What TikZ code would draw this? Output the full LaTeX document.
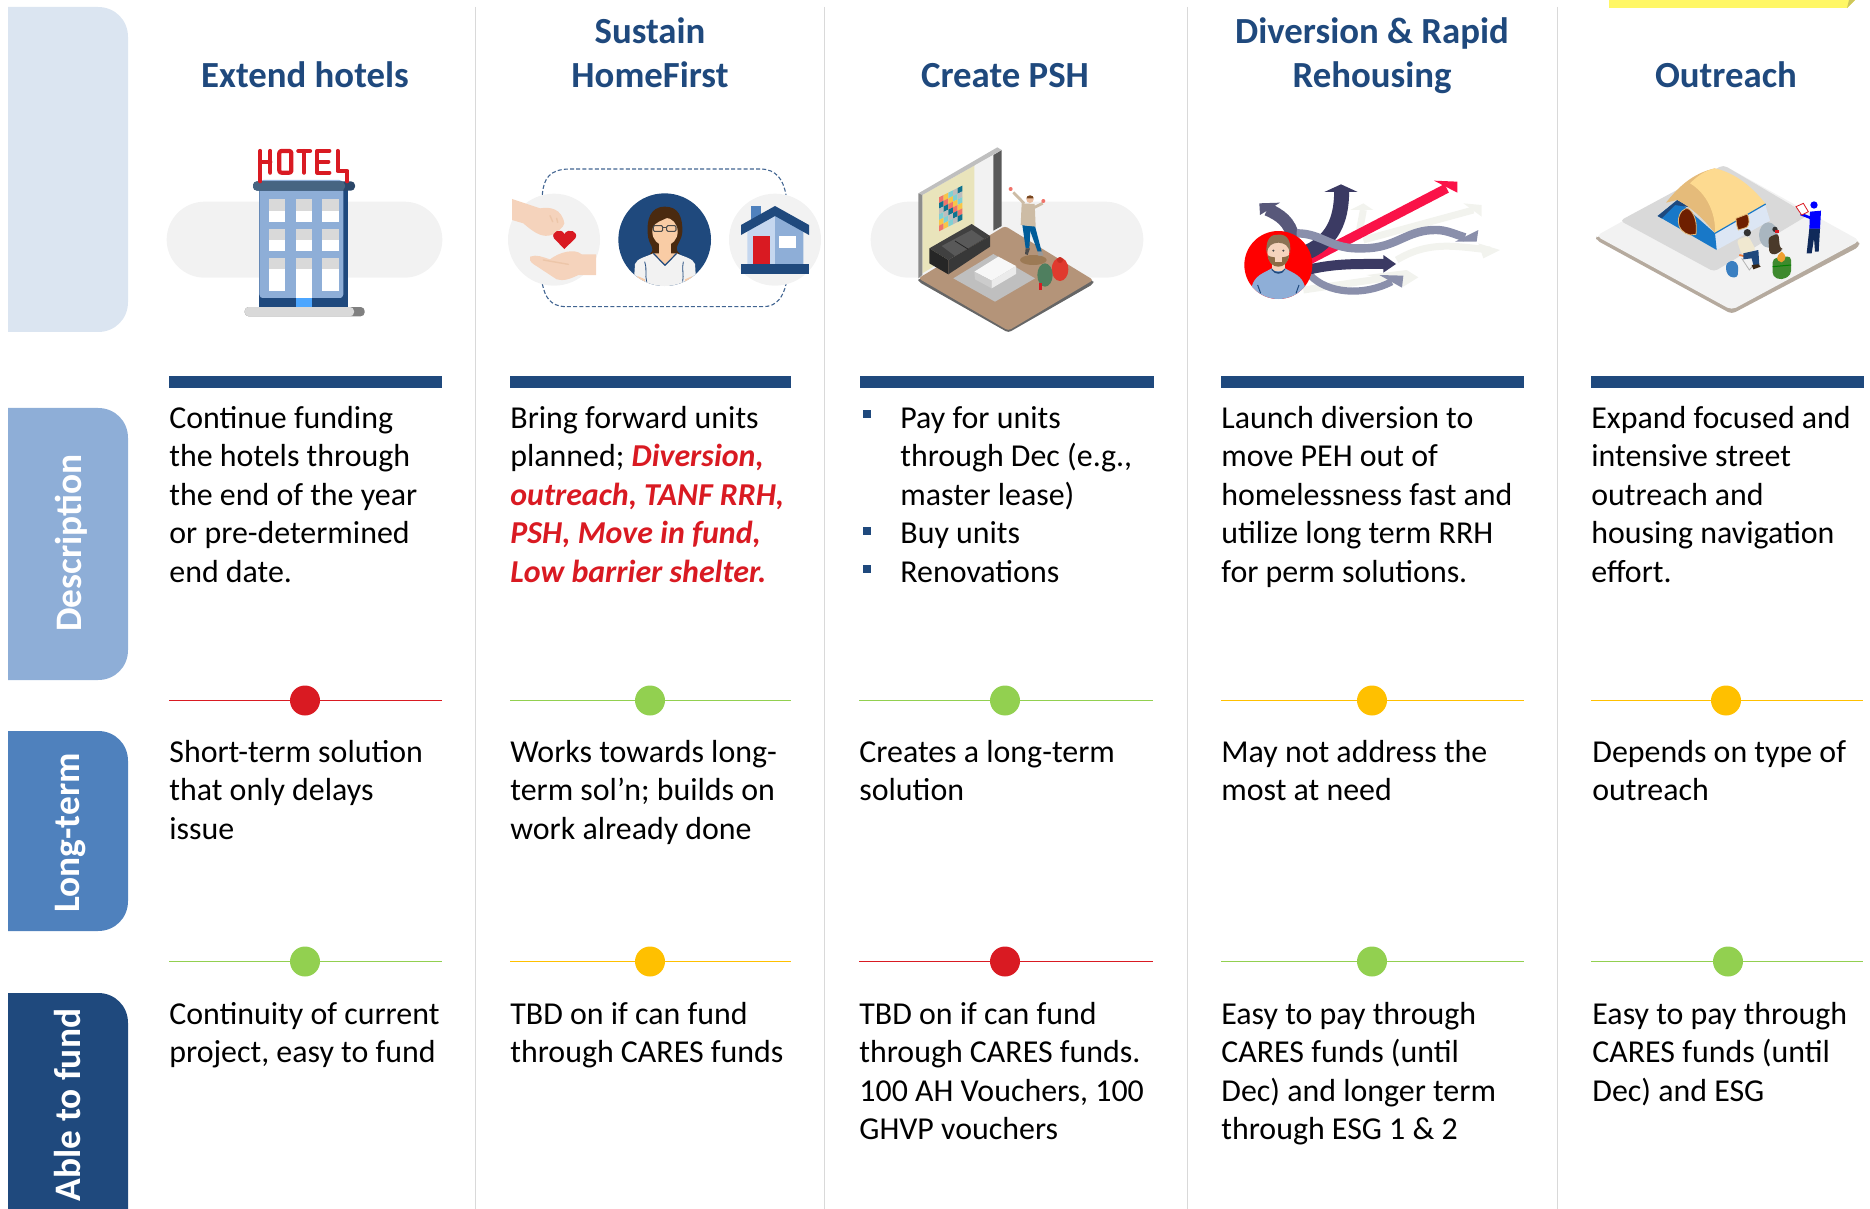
\documentclass[tikz,border=0pt]{standalone}
\usepackage{fontspec}
\setmainfont{Carlito}
\definecolor{navy}{HTML}{1F497D}
\definecolor{pillA}{HTML}{DBE5F1}
\definecolor{pillB}{HTML}{8EAED7}
\definecolor{pillC}{HTML}{4F81BD}
\definecolor{redL}{HTML}{D91A22}
\definecolor{greenL}{HTML}{92D050}
\definecolor{ambL}{HTML}{FFC000}
\definecolor{softG}{HTML}{F2F2F2}
\definecolor{divL}{HTML}{D9D9D9}
\definecolor{skin}{HTML}{F5D3BC}
\definecolor{art0}{HTML}{F0736A}
\definecolor{art1}{HTML}{7FD0D4}
\definecolor{art2}{HTML}{0F7390}
\definecolor{art3}{HTML}{F7C548}
\definecolor{art4}{HTML}{BDBDBD}
\definecolor{arrD}{HTML}{3B3A63}
\definecolor{arrM}{HTML}{8A8FAB}
\definecolor{arrF}{HTML}{F2F3EE}
\tikzset{
  pxgrid/.style={x=0.5pt,y=-0.5pt},
  zoomgrid/.style={x=0.166667pt,y=-0.166667pt},
  divider/.style={divL,line width=0.45pt},
  headtext/.style={font=\fontsize{18.4}{22}\selectfont\bfseries,text=navy,align=center,anchor=south,inner sep=0pt},
  bodytext/.style={font=\fontsize{15.95}{19.25}\selectfont,text=black,align=left,anchor=north west,inner sep=0pt},
  sidetext/.style={font=\fontsize{18.7}{22}\selectfont\bfseries,text=white,rotate=90,inner sep=0pt},
  tlline/.style={line width=0.62pt},
  tldot/.style={circle,minimum size=15pt,inner sep=0pt,draw=none},
  bulletmark/.style={rectangle,fill=navy,minimum size=4pt,inner sep=0pt,draw=none},
}
\newcommand{\pillshape}[3]{\fill[#1] (8,#2) -- (98,#2) .. controls (115,#2) and (128,#2+13) .. (128,#2+30) -- (128,#3-30) .. controls (128,#3-13) and (115,#3) .. (98,#3) -- (8,#3) -- cycle;}
\newcommand{\tlrow}[6]{%
  \coordinate (#1a) at (#2,#5);\coordinate (#1b) at (#3,#5);
  \draw[tlline,#6] (#1a) -- (#1b);
  \node[tldot,fill=#6] (#1) at (#4,#5) {};}
\begin{document}
\begin{tikzpicture}[pxgrid]
\useasboundingbox (0,0) rectangle (1870,1209);
\begin{scope}
\clip (0,0) rectangle (1870,1209);
% side pills
\pillshape{pillA}{7}{332}
\pillshape{pillB}{408}{680}
\pillshape{pillC}{731}{931}
\pillshape{navy}{993}{1240}
\end{scope}
\node[sidetext] (lblD) at (71,543) {Description};
\node[sidetext] (lblL) at (71,833) {Long-term};
\node[sidetext] (lblF) at (68,1105) {Able to fund};
% dividers
\foreach \n/\x in {a/475,b/824,c/1187,d/1557}{
  \coordinate (top\n) at (\x,7);\coordinate (bot\n) at (\x,1209);
  \draw[divider] (top\n) -- (bot\n);
}
% yellow note
\fill[yellow!60!white] (1609,0) -- (1855,0) -- (1847,8) -- (1609,8) -- cycle;
\fill[yellow!55!gray] (1855,0) -- (1847,8) -- (1849,0) -- cycle;
% headings
\node[headtext] (h1) at (305,101) {\strut Extend hotels};
\node[headtext] (h2) at (650,101) {\strut Sustain\\\strut HomeFirst};
\node[headtext] (h3) at (1005,101) {\strut Create PSH};
\node[headtext] (h4) at (1372,101) {\strut Diversion \& Rapid\\\strut Rehousing};
\node[headtext] (h5) at (1726,101) {\strut Outreach};
% bars
\fill[navy] (169,376) rectangle (442,388);
\fill[navy] (510,376) rectangle (791,388);
\fill[navy] (860,376) rectangle (1154,388);
\fill[navy] (1221,376) rectangle (1524,388);
\fill[navy] (1591,376) rectangle (1864,388);
% description
\node[bodytext] (d1) at (169,401) {\strut Continue funding\\the hotels through\\the end of the year\\or pre-determined\\end date.};
\node[bodytext] (d2) at (510,401) {\strut Bring forward units\\planned; \textcolor{redL}{\textbf{\textit{Diversion,}}}\\\textcolor{redL}{\textbf{\textit{outreach, TANF RRH,}}}\\\textcolor{redL}{\textbf{\textit{PSH, Move in fund,}}}\\\textcolor{redL}{\textbf{\textit{Low barrier shelter.}}}};
\node[bodytext] (d3) at (900,401) {\strut Pay for units\\through Dec (e.g.,\\master lease)\\Buy units\\Renovations};
\node[bulletmark] (b1) at (867,414) {};
\node[bulletmark] (b2) at (867,531) {};
\node[bulletmark] (b3) at (867,569) {};
\node[bodytext] (d4) at (1221,401) {\strut Launch diversion to\\move PEH out of\\homelessness fast and\\utilize long term RRH\\for perm solutions.};
\node[bodytext] (d5) at (1591,401) {\strut Expand focused and\\intensive street\\outreach and\\housing navigation\\effort.};
% long-term
\tlrow{ta}{169}{442}{305}{700.5}{redL}
\tlrow{tb}{510}{791}{650}{700.5}{greenL}
\tlrow{tc}{859}{1153}{1005}{700.5}{greenL}
\tlrow{td}{1221}{1524}{1372}{700.5}{ambL}
\tlrow{te}{1591}{1863}{1726}{700.5}{ambL}
\node[bodytext] (l1) at (169,735) {\strut Short-term solution\\that only delays\\issue};
\node[bodytext] (l2) at (510,735) {\strut Works towards long-\\term sol’n; builds on\\work already done};
\node[bodytext] (l3) at (859,735) {\strut Creates a long-term\\solution};
\node[bodytext] (l4) at (1221,735) {\strut May not address the\\most at need};
\node[bodytext] (l5) at (1592,735) {\strut Depends on type of\\outreach};
% funding
\tlrow{ua}{169}{442}{305}{961.5}{greenL}
\tlrow{ub}{510}{791}{650}{961.5}{ambL}
\tlrow{uc}{859}{1153}{1005}{961.5}{redL}
\tlrow{ud}{1221}{1524}{1372}{961.5}{greenL}
\tlrow{ue}{1591}{1863}{1728}{961.5}{greenL}
\node[bodytext] (f1) at (169,997) {\strut Continuity of current\\project, easy to fund};
\node[bodytext] (f2) at (510,997) {\strut TBD on if can fund\\through CARES funds};
\node[bodytext] (f3) at (859,997) {\strut TBD on if can fund\\through CARES funds.\\100 AH Vouchers, 100\\GHVP vouchers};
\node[bodytext] (f4) at (1221,997) {\strut Easy to pay through\\CARES funds (until\\Dec) and longer term\\through ESG 1 \& 2};
\node[bodytext] (f5) at (1592,997) {\strut Easy to pay through\\CARES funds (until\\Dec) and ESG};
% ---------- hotel icon
\begin{scope}[shift={(160,140)},zoomgrid]
\fill[softG,rounded corners=19pt] (20,185) rectangle (847,413);
\fill[navy] (298,150) rectangle (565,500);
\fill[pillB,rounded corners=2pt] (298,120) -- (550,120) -- (550,475) -- (298,475) -- cycle;
\fill[navy] (298,475) rectangle (407,500);
\fill[navy] (456,475) rectangle (565,500);
\fill[white] (407,388) rectangle (456,475);
\fill[blue!50!cyan!70!white] (407,475) rectangle (456,500);
\fill[color=black!45!pillC,rounded corners=2pt] (279,124) rectangle (585,152);
\fill[color={rgb,255:red,70;green,101;blue,130},rounded corners=2pt] (279,124) rectangle (555,152);
\fill[color=black!50,rounded corners=2pt] (254,501) rectangle (614,529);
\fill[divL,rounded corners=2pt] (254,501) rectangle (582,529);
\foreach \xa/\xb in {328/376,407/456,487/536}{
  \foreach \ya/\yb/\yc in {178/212/246,266/300/334,354/388/453}{
    \fill[white] (\xa,\yb) rectangle (\xb,\yc);
    \fill[divL] (\xa,\ya) rectangle (\xb,\yb);
  }
}
\begin{scope}[redL,line width=2.1pt,line cap=round,line join=round]
\draw (301,33) -- (301,124);
\draw (331,33) -- (331,98);
\draw (301,65) -- (331,65);
\draw[rounded corners=1pt] (358,33) rectangle (394,98);
\draw (415,33) -- (450,33);
\draw (432,33) -- (432,98);
\draw (508,33) -- (472,33) -- (472,98) -- (508,98);
\draw (472,65) -- (505,65);
\draw (533,33) -- (533,93) -- (562,93) -- (562,124);
\end{scope}
\end{scope}
% ---------- homefirst icon
\begin{scope}[shift={(500,160)},zoomgrid]
\begin{scope}[navy!85!white,line width=0.55pt,dash pattern=on 2pt off 1.1pt]
\draw (127,105) .. controls (130,55) and (150,27) .. (210,27) -- (780,27) .. controls (830,27) and (850,60) .. (858,105);
\draw (127,372) .. controls (135,410) and (150,440) .. (200,440) -- (790,440) .. controls (830,440) and (850,410) .. (858,372);
\end{scope}
\fill[softG] (162,239) circle (138);
\fill[softG] (825,239) circle (138);
\fill[navy] (494,239) circle (139);
% hands
\fill[skin] (36,117) -- (120,145) .. controls (150,140) and (185,145) .. (193,190) .. controls (190,205) and (170,215) .. (155,225) .. controls (130,232) and (110,225) .. (70,190) -- (36,180) -- cycle;
\fill[skin] (90,290) .. controls (110,282) and (130,292) .. (150,298) .. controls (180,275) and (225,265) .. (245,283) -- (288,283) -- (288,345) -- (235,345) .. controls (215,355) and (190,365) .. (170,358) -- (100,312) .. controls (90,305) and (88,298) .. (90,290) -- cycle;
\draw[skin!85!brown,line width=0.7pt,line cap=round] (130,300) -- (205,313);
\draw[skin!85!brown,line width=0.7pt,line cap=round] (150,167) -- (158,185);
\draw[skin!85!brown,line width=0.7pt,line cap=round] (170,175) -- (173,187);
\fill[redL] (193,267) -- (162,235) .. controls (150,215) and (185,202) .. (193,222) .. controls (205,202) and (238,215) .. (226,235) -- cycle;
% woman
\begin{scope}
\clip (494,239) circle (139);
\fill[color={rgb,255:red,74;green,42;blue,16}] (495,140) .. controls (450,140) and (440,180) .. (443,220) .. controls (445,260) and (470,262) .. (450,282) -- (540,282) .. controls (515,262) and (545,250) .. (547,215) .. controls (548,170) and (535,140) .. (495,140) -- cycle;
\fill[color={rgb,255:red,249;green,204;blue,165}] (478,240) rectangle (512,290);
\fill[softG] (405,312) .. controls (410,295) and (440,290) .. (460,280) -- (495,316) -- (530,280) .. controls (550,290) and (580,295) .. (585,312) -- (590,390) -- (400,390) -- cycle;
\fill[color={rgb,255:red,249;green,204;blue,165}] (458,280) -- (532,280) -- (495,316) -- cycle;
\draw[navy,line width=0.6pt,line join=round] (460,280) -- (495,316) -- (530,280);
\draw[navy,line width=0.4pt] (434,305) .. controls (442,325) and (434,345) .. (440,365);
\draw[navy,line width=0.4pt] (550,305) .. controls (545,325) and (552,345) .. (548,365);
\fill[skin!90!orange] (412,348) -- (435,358) -- (435,375) -- (412,375) -- cycle;
\fill[skin!90!orange] (578,348) -- (555,358) -- (555,375) -- (578,375) -- cycle;
\fill[color={rgb,255:red,249;green,204;blue,165}] (495,215) ellipse (38 and 42);
\fill[color={rgb,255:red,74;green,42;blue,16}] (455,205) .. controls (460,170) and (480,155) .. (500,157) .. controls (525,160) and (535,180) .. (537,205) .. controls (530,180) and (515,175) .. (505,172) .. controls (490,180) and (465,185) .. (455,205) -- cycle;
\draw[black!70,line width=0.55pt,rounded corners=0.6pt] (460,197) rectangle (488,214);
\draw[black!70,line width=0.55pt,rounded corners=0.6pt] (500,197) rectangle (528,214);
\draw[black!70,line width=0.55pt] (488,202) -- (500,202);
\end{scope}
% house
\fill[pillC] (753,138) rectangle (783,185);
\fill[color={rgb,255:red,197;green,215;blue,239}] (742,210) -- (825,165) -- (825,312) -- (742,312) -- cycle;
\fill[pillB] (825,165) -- (910,210) -- (910,312) -- (825,312) -- cycle;
\fill[navy] (723,195) -- (825,138) -- (927,195) -- (927,225) -- (825,168) -- (723,225) -- cycle;
\fill[redL] (759,228) rectangle (810,312);
\fill[white] (837,228) rectangle (888,264);
\fill[navy] (723,312) rectangle (927,341);
\end{scope}
% ---------- room icon
\begin{scope}[shift={(860,140)},zoomgrid]
\fill[softG,rounded corners=19pt] (32,185) rectangle (850,413);
\fill[black!60,rounded corners=1.5pt] (175,415) -- (175,425) -- (445,578) -- (700,432) -- (700,420) -- cycle;
\fill[color={rgb,255:red,180;green,148;blue,121},rounded corners=1.5pt] (175,415) -- (435,258) -- (700,420) -- (445,572) -- cycle;
\fill[color={rgb,255:red,233;green,228;blue,187}] (187,165) -- (345,75) -- (345,305) -- (187,400) -- cycle;
\fill[softG] (343,78) -- (400,45) -- (400,265) -- (343,300) -- cycle;
\fill[black!65] (400,45) -- (425,30) -- (425,258) -- (400,272) -- cycle;
\fill[black!25] (175,160) -- (412,22) -- (425,30) -- (187,165) -- cycle;
\fill[black!45] (175,160) -- (187,165) -- (187,405) -- (175,415) -- cycle;
\foreach \i in {0,...,4}{
  \foreach \j in {0,...,5}{
    \pgfmathtruncatemacro\k{mod(\i*3+\j*2,5)}
    \fill[art\k] (237+14*\i,172-7*\i+17*\j) -- (251+14*\i,165-7*\i+17*\j) -- (251+14*\i,182-7*\i+17*\j) -- (237+14*\i,189-7*\i+17*\j) -- cycle;
  }
}
% sofa
\fill[black!75] (208,325) -- (335,252) -- (390,288) -- (265,360) -- cycle;
\fill[black!85] (208,325) -- (265,360) -- (265,403) -- (208,370) -- cycle;
\fill[black!78] (265,360) -- (390,288) -- (390,320) -- (265,403) -- cycle;
\fill[black!65] (245,318) -- (335,270) -- (372,296) -- (285,348) -- cycle;
\draw[black!85,line width=0.4pt] (285,303) -- (325,328);
\fill[black!25] (280,415) -- (400,342) -- (525,415) -- (405,485) -- cycle;
\fill[black!3] (343,395) -- (415,350) -- (468,378) -- (395,422) -- cycle;
\fill[black!20] (343,395) -- (395,422) -- (395,445) -- (345,418) -- cycle;
\fill[black!8] (395,422) -- (468,378) -- (468,402) -- (395,445) -- cycle;
% person
\fill[color={rgb,255:red,156;green,122;blue,85}] (520,360) ellipse (40 and 15);
\fill[blue!40!cyan!60!black] (487,255) -- (512,258) -- (508,325) -- (497,325) -- cycle;
\fill[blue!40!cyan!60!black] (505,258) -- (525,258) -- (545,335) -- (533,335) -- cycle;
\fill[black!70] (497,325) -- (510,325) -- (503,345) -- (495,342) -- cycle;
\fill[black!40] (533,335) -- (547,335) -- (550,347) -- (535,347) -- cycle;
\fill[color={rgb,255:red,205;green,188;blue,165}] (485,190) -- (524,192) -- (527,260) -- (482,255) -- cycle;
\draw[color={rgb,255:red,205;green,188;blue,165},line width=1.4pt] (492,190) -- (460,157);
\draw[color={rgb,255:red,205;green,188;blue,165},line width=1.4pt] (522,203) -- (548,190);
\fill[art0] (452,147) circle (6);
\fill[art0] (550,183) circle (6);
\fill[color={rgb,255:red,235;green,190;blue,160}] (510,178) circle (11);
\fill[color={rgb,255:red,120;green,70;blue,30}] (499,175) arc (180:360:11 and 9) -- cycle;
% bags
\fill[color={rgb,255:red,224;green,58;blue,46}] (600,388) ellipse (25 and 35);
\fill[color={rgb,255:red,200;green,46;blue,34}] (600,360) circle (9);
\fill[color={rgb,255:red,79;green,127;blue,95}] (555,405) ellipse (23 and 35);
\fill[redL] (537,428) rectangle (547,450);
\end{scope}
% ---------- diversion icon
\begin{scope}[shift={(1230,160)},zoomgrid]
\begin{scope}[arrF,line width=3.5pt]
\draw (220,390) -- (460,355);
\draw (500,300) .. controls (600,240) and (680,260) .. (780,270);
\draw (400,240) -- (730,150);
\draw (385,230) -- (400,150);
\end{scope}
\fill[arrF] (410,345) -- (530,330) -- (565,352) -- (520,380) -- cycle;
\fill[arrF] (745,250) -- (810,270) -- (760,295) -- cycle;
\fill[arrF] (700,130) -- (755,135) -- (755,170) -- cycle;
\fill[arrF] (360,150) -- (400,130) -- (430,150) -- cycle;
% left up arrow
\draw[color=arrD!85!white,line width=6.5pt] (190,235) .. controls (180,185) and (150,165) .. (112,148);
\fill[color=arrD!85!white] (88,130) -- (150,128) -- (90,165) -- cycle;
% red arrow
\draw[color={rgb,255:red,250;green,18;blue,72},line width=4.8pt] (240,298) -- (650,85);
\fill[color={rgb,255:red,250;green,18;blue,72}] (612,62) -- (682,65) -- (682,98) -- cycle;
% up arrow
\draw[arrD,line width=7.5pt] (235,275) .. controls (320,235) and (335,160) .. (335,90);
\fill[arrD] (283,96) -- (333,73) -- (383,96) -- cycle;
% wave
\draw[arrM,line width=4.2pt] (200,220) .. controls (280,220) and (300,270) .. (400,265) .. controls (500,265) and (530,208) .. (620,210) .. controls (650,210) and (680,225) .. (705,232);
\fill[arrM] (745,210) -- (740,245) -- (675,245) -- cycle;
% lower wave
\draw[arrM,line width=3.6pt] (240,345) .. controls (290,400) and (400,410) .. (485,365);
\fill[arrM] (448,345) -- (520,347) -- (516,383) -- cycle;
% dark right arrow
\draw[arrD,line width=5pt] (240,328) .. controls (320,310) and (380,312) .. (462,312);
\fill[arrD] (460,285) -- (498,312) -- (460,338) -- cycle;
% man
\fill[red] (145,315) circle (102);
\begin{scope}
\clip (145,315) circle (102);
\fill[pillB] (65,380) .. controls (75,345) and (100,340) .. (125,325) -- (165,325) .. controls (190,340) and (215,345) .. (225,380) -- (225,420) -- (65,420) -- cycle;
\fill[skin] (125,305) rectangle (165,332);
\fill[navy] (125,325) .. controls (135,340) and (155,340) .. (165,325) -- (165,330) .. controls (155,345) and (135,345) .. (125,330) -- cycle;
\fill[skin] (145,275) ellipse (33 and 45);
\fill[color={rgb,255:red,139;green,115;blue,85}] (110,280) .. controls (105,235) and (125,222) .. (145,224) .. controls (170,222) and (185,240) .. (180,280) .. controls (175,255) and (165,250) .. (145,248) .. controls (125,250) and (115,255) .. (110,280) -- cycle;
\fill[color={rgb,255:red,139;green,107;blue,69}] (113,285) .. controls (120,295) and (170,295) .. (177,285) .. controls (175,310) and (160,320) .. (145,320) .. controls (130,320) and (115,310) .. (113,285) -- cycle;
\fill[skin] (135,292) rectangle (155,305);
\fill[black!70] (130,272) circle (3.5);
\fill[black!70] (160,272) circle (3.5);
\draw[navy,line width=0.5pt] (83,375) -- (92,400);
\draw[navy,line width=0.5pt] (207,375) -- (198,400);
\end{scope}
\end{scope}
% ---------- outreach icon
\begin{scope}[shift={(1590,150)},zoomgrid]
\fill[color={rgb,255:red,181;green,170;blue,158},rounded corners=2pt] (18,258) -- (18,270) -- (425,492) -- (808,290) -- (808,272) -- cycle;
\fill[softG,rounded corners=2.5pt] (18,258) -- (400,45) -- (810,272) -- (425,480) -- cycle;
\fill[divL,rounded corners=2pt] (90,212) -- (400,45) -- (655,195) -- (372,365) -- cycle;
% tent
\fill[color={rgb,255:red,220;green,230;blue,244}] (375,250) -- (525,162) -- (540,212) -- (380,300) -- cycle;
\fill[color={rgb,255:red,24;green,120;blue,200}] (203,198) -- (262,150) -- (375,250) -- (380,300) -- cycle;
\fill[navy] (203,198) -- (262,150) -- (300,172) -- (255,165) -- (215,205) -- cycle;
\fill[color={rgb,255:red,229;green,187;blue,122}] (228,158) .. controls (262,115) and (305,70) .. (375,55) -- (430,165) -- (375,250) .. controls (340,205) and (300,170) .. (262,150) -- cycle;
\fill[color={rgb,255:red,253;green,218;blue,144}] (300,100) .. controls (325,75) and (350,60) .. (375,55) .. controls (440,70) and (490,115) .. (527,162) -- (375,250) .. controls (378,190) and (350,130) .. (300,100) -- cycle;
\draw[color={rgb,255:red,24;green,120;blue,200},line width=0.6pt] (375,250) -- (527,162);
\fill[color={rgb,255:red,110;green,31;blue,0},draw={rgb,255:red,229;green,187;blue,122},line width=0.4pt] (265,215) .. controls (265,185) and (285,172) .. (295,176) .. controls (315,190) and (322,220) .. (318,253) -- (300,255) .. controls (280,250) and (265,235) .. (265,215) -- cycle;
\fill[color={rgb,255:red,110;green,31;blue,0},draw={rgb,255:red,229;green,187;blue,122},line width=0.4pt] (438,205) -- (472,192) .. controls (480,210) and (478,225) .. (470,232) -- (445,240) .. controls (440,230) and (438,215) .. (438,205) -- cycle;
% backpack
\fill[color={rgb,255:red,58;green,127;blue,193},rounded corners=1.5pt] (408,340) -- (430,330) -- (445,345) -- (443,382) -- (420,382) -- (408,365) -- cycle;
% sitting man
\fill[color={rgb,255:red,240;green,232;blue,208},rounded corners=1.5pt] (440,270) -- (475,258) -- (498,300) -- (455,315) -- cycle;
\fill[black!80] (472,248) circle (11);
\draw[color={rgb,255:red,240;green,120;blue,50},line width=0.9pt] (448,315) -- (478,322);
\draw[black!30,line width=0.4pt] (455,325) -- (478,360) -- (490,345);
\fill[navy] (460,310) -- (505,300) -- (508,345) -- (490,345) -- (485,325) -- (460,328) -- cycle;
\fill[black!70!brown] (485,345) -- (505,343) -- (512,350) -- (490,358) -- cycle;
% second man
\fill[color={rgb,255:red,169;green,182;blue,192}] (535,255) ellipse (28 and 38);
\fill[color={rgb,255:red,74;green,58;blue,42},rounded corners=1.5pt] (535,262) -- (565,250) -- (570,295) -- (580,298) -- (555,315) -- (538,310) -- cycle;
\fill[black!80] (555,238) circle (8);
\fill[redL] (556,240) rectangle (568,250);
% barrel
\fill[color={rgb,255:red,62;green,138;blue,46},rounded corners=2pt] (548,325) -- (603,318) -- (603,375) -- (575,390) -- (548,380) -- cycle;
\draw[black!50!green,line width=0.5pt] (548,350) -- (603,345);
\fill[color={rgb,255:red,240;green,160;blue,48}] (575,305) .. controls (590,315) and (590,330) .. (575,337) .. controls (558,333) and (555,320) .. (575,305) -- cycle;
% standing man
\fill[color={rgb,255:red,16;green,42;blue,90}] (658,235) -- (690,235) -- (686,305) -- (675,305) -- (672,265) -- (665,310) -- (650,310) -- cycle;
\fill[blue] (660,185) -- (693,182) -- (690,236) -- (658,236) -- cycle;
\draw[blue,line width=1.3pt] (665,205) -- (632,192);
\fill[blue] (672,165) circle (11);
\fill[white,draw=redL,line width=0.4pt] (618,170) -- (640,160) -- (655,185) -- (635,195) -- cycle;
\end{scope}
\end{tikzpicture}
\end{document}
